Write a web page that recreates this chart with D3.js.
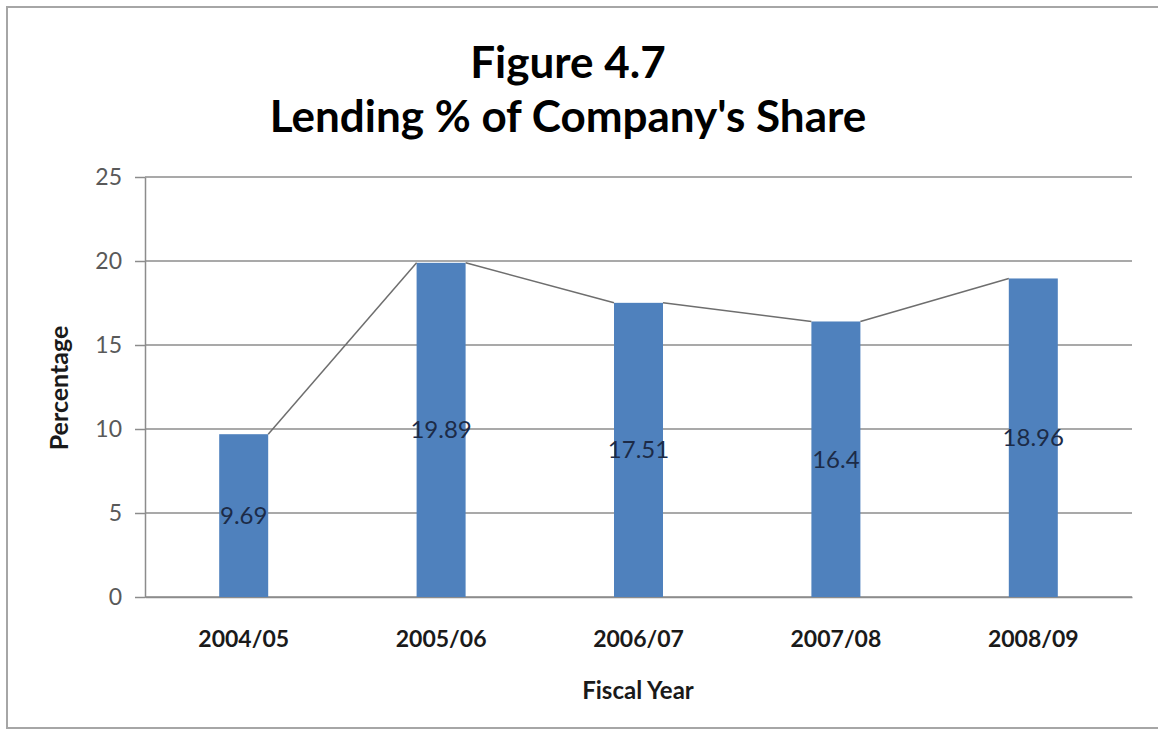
<!DOCTYPE html>
<html>
<head>
<meta charset="utf-8">
<script src="https://cdn.jsdelivr.net/npm/d3@7/dist/d3.min.js"></script>
<style>
  html, body { margin: 0; padding: 0; background: #ffffff; }
  svg { display: block; font-family: Lato, "Open Sans", sans-serif; }
</style>
</head>
<body>
<svg id="chart" width="1158" height="735"></svg>
<script>
// Fiscal years and lending share (%) for each year
const categories = ["2004/05", "2005/06", "2006/07", "2007/08", "2008/09"];
const lendingShare = [9.69, 19.89, 17.51, 16.4, 18.96];
const valueLabels = ["9.69", "19.89", "17.51", "16.4", "18.96"];
const yTicks = [0, 5, 10, 15, 20, 25];
const titleLines = ["Figure 4.7", "Lending % of Company's Share"];

const svg = d3.select("#chart");

// Chart frame
svg.append("rect")
  .attr("x", 7).attr("y", 7).attr("width", 1160).attr("height", 721)
  .attr("fill", "#ffffff").attr("stroke", "#a6a6a6").attr("stroke-width", 2);

const plot = { left: 145, right: 1132, top: 177, bottom: 597 };

const x = d3.scaleBand().domain(categories).range([plot.left, plot.right]).padding(0);
const y = d3.scaleLinear().domain([0, 25]).range([plot.bottom, plot.top]);
const barW = 49;

// Gridlines
svg.append("g")
  .selectAll("line")
  .data(yTicks)
  .join("line")
  .attr("x1", plot.left).attr("x2", plot.right)
  .attr("y1", d => y(d)).attr("y2", d => y(d))
  .attr("stroke", "#8c8c8c").attr("stroke-width", 1.5);

// Y axis
const yAxis = svg.append("g")
  .attr("transform", `translate(${plot.left},0)`)
  .call(d3.axisLeft(y).tickValues(yTicks).tickSize(10).tickPadding(13).tickSizeOuter(0));
yAxis.select(".domain").attr("stroke", "#8c8c8c").attr("stroke-width", 1.5);
yAxis.selectAll(".tick line").attr("stroke", "#8c8c8c").attr("stroke-width", 1.5);
yAxis.selectAll(".tick text")
  .attr("fill", "#595959")
  .style("font-size", "23px")
  .style("font-family", "Lato, sans-serif");

// X axis
const xAxis = svg.append("g")
  .attr("transform", `translate(0,${plot.bottom})`)
  .call(d3.axisBottom(x).tickSize(0).tickPadding(34).tickSizeOuter(0));
xAxis.select(".domain").attr("stroke", "#8c8c8c").attr("stroke-width", 1.5);
xAxis.selectAll(".tick text")
  .attr("fill", "#1a1a1a")
  .style("font-size", "23px")
  .style("font-weight", "bold")
  .style("font-family", "Lato, sans-serif");

const barX = (c) => x(c) + x.bandwidth() / 2 - barW / 2;

// Bars
svg.append("g")
  .selectAll("rect")
  .data(categories)
  .join("rect")
  .attr("x", c => barX(c))
  .attr("y", (c, i) => y(lendingShare[i]))
  .attr("width", barW)
  .attr("height", (c, i) => y(0) - y(lendingShare[i]))
  .attr("fill", "#4f81bd");

// Series lines joining neighbouring bar tops
const links = d3.pairs(categories.map((c, i) => ({ c, v: lendingShare[i] })));
svg.append("g")
  .selectAll("line")
  .data(links)
  .join("line")
  .attr("x1", d => barX(d[0].c) + barW)
  .attr("y1", d => y(d[0].v))
  .attr("x2", d => barX(d[1].c))
  .attr("y2", d => y(d[1].v))
  .attr("stroke", "#6e6e6e").attr("stroke-width", 1.5);

// Value labels, centred in each bar
svg.append("g")
  .selectAll("text")
  .data(categories)
  .join("text")
  .attr("x", c => x(c) + x.bandwidth() / 2)
  .attr("y", (c, i) => y(lendingShare[i] / 2))
  .attr("dy", "0.35em")
  .attr("text-anchor", "middle")
  .attr("fill", "#1c2b47")
  .style("font-size", "24px")
  .text((c, i) => valueLabels[i]);

// Title
svg.append("g")
  .selectAll("text")
  .data(titleLines)
  .join("text")
  .attr("x", 568)
  .attr("y", (d, i) => 78 + i * 54)
  .attr("text-anchor", "middle")
  .attr("fill", "#000000")
  .style("font-size", "44px")
  .style("font-weight", "bold")
  .text(d => d);

// Axis titles
svg.append("text")
  .attr("transform", "translate(68,388) rotate(-90)")
  .attr("text-anchor", "middle")
  .attr("fill", "#1a1a1a")
  .style("font-size", "25px")
  .style("font-weight", "bold")
  .text("Percentage");

svg.append("text")
  .attr("x", 638).attr("y", 699)
  .attr("text-anchor", "middle")
  .attr("fill", "#1a1a1a")
  .style("font-size", "24px")
  .style("font-weight", "bold")
  .text("Fiscal Year");
</script>
</body>
</html>
